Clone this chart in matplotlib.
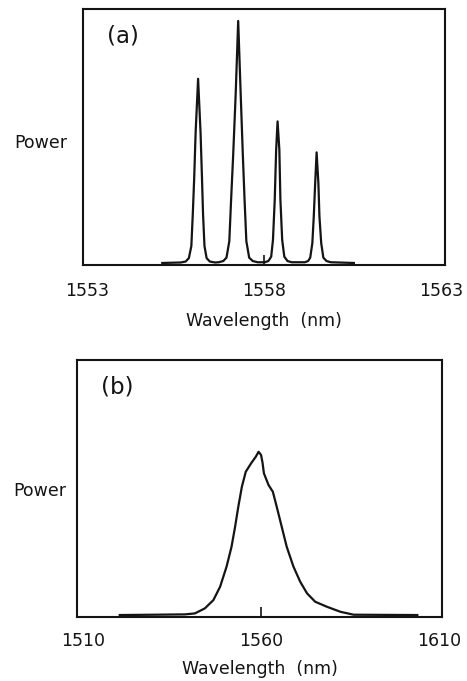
import matplotlib.pyplot as plt

# (a) multi-wavelength output (power in arb. units)
wl_a = [1555.13,
        1555.65, 1555.79, 1555.88, 1555.95, 1555.99, 1556.03, 1556.07, 1556.14, 1556.21,
        1556.25, 1556.28, 1556.32, 1556.38, 1556.47, 1556.62,
        1556.72, 1556.85, 1556.94, 1557.02, 1557.07, 1557.13, 1557.20, 1557.27, 1557.34,
        1557.40, 1557.45, 1557.50, 1557.58, 1557.68, 1557.82,
        1558.02, 1558.12, 1558.20, 1558.25, 1558.30, 1558.34, 1558.38, 1558.43, 1558.46,
        1558.51, 1558.57, 1558.66, 1558.78,
        1559.15, 1559.24, 1559.30, 1559.36, 1559.40, 1559.44, 1559.48, 1559.53, 1559.56,
        1559.61, 1559.67, 1559.76, 1559.88,
        1560.53]
power_a = [0.0,
           0.002, 0.006, 0.02, 0.07, 0.2, 0.35, 0.537, 0.761, 0.537,
           0.35, 0.2, 0.07, 0.02, 0.006, 0.002,
           0.003, 0.008, 0.022, 0.09, 0.26, 0.45, 0.70, 1.0, 0.70,
           0.45, 0.26, 0.09, 0.022, 0.008, 0.003,
           0.003, 0.008, 0.026, 0.095, 0.261, 0.468, 0.585, 0.468, 0.261,
           0.095, 0.026, 0.008, 0.003,
           0.003, 0.008, 0.022, 0.082, 0.192, 0.33, 0.457, 0.33, 0.192,
           0.082, 0.022, 0.008, 0.003,
           0.0]

# (b) broadband output
wl_b = [1520.3, 1530.0, 1538.6, 1541.4, 1544.2, 1546.6, 1548.5, 1550.3, 1551.7, 1552.7,
        1553.6, 1554.6, 1555.7, 1557.2, 1558.5, 1559.3, 1560.0, 1560.4, 1560.8, 1562.1,
        1563.3, 1564.4, 1565.8, 1567.2, 1569.1, 1571.0, 1572.9, 1575.2, 1578.5, 1582.3,
        1586.0, 1603.9]
power_b = [0.0, 0.002, 0.004, 0.010, 0.041, 0.092, 0.175, 0.298, 0.421, 0.544,
           0.667, 0.790, 0.883, 0.935, 0.975, 1.006, 0.986, 0.94, 0.873, 0.801,
           0.760, 0.667, 0.544, 0.421, 0.298, 0.205, 0.134, 0.082, 0.051, 0.020,
           0.002, 0.0]

ticks_a = [1553, 1558, 1563]
ticks_b = [1510, 1560, 1610]

plt.rcParams['font.family'] = 'DejaVu Sans'
fig = plt.figure(figsize=(4.67, 6.81), dpi=100)
ax1 = fig.add_axes([0.178, 0.611, 0.775, 0.376])
ax2 = fig.add_axes([0.165, 0.094, 0.782, 0.377])

ink = '#141414'
panels = [
    (ax1, wl_a, power_a, ticks_a, (1552.9, 1563.1), (-0.008, 1.05), '(a)', 12, 0.477, -0.044, 9),
    (ax2, wl_b, power_b, ticks_b, (1508.3, 1610.9), (-0.012, 1.57), '(b)', 11, 0.49, -0.03, 7),
]

for ax, x, y, ticks, xlim, ylim, tag, pad, ly, lx, lpad in panels:
    ax.plot(x, y, color=ink, lw=1.6)
    ax.set_xlim(*xlim)
    ax.set_ylim(*ylim)
    ax.set_yticks([])
    ax.set_xticks(ticks)
    ax.set_xticklabels([str(t) for t in ticks], fontsize=12.5, color=ink)
    ax.tick_params(axis='x', which='major', length=0, pad=pad)
    # only the centre wavelength gets a small inward tick
    ax.xaxis.remove_overlapping_locs = False
    ax.set_xticks([ticks[1]], minor=True)
    ax.tick_params(axis='x', which='minor', direction='in', length=7.5, width=1.2, color=ink)
    for s in ax.spines.values():
        s.set_linewidth(1.5)
        s.set_color(ink)
    ax.set_xlabel('Wavelength  (nm)', fontsize=12.5, color=ink, labelpad=lpad)
    ax.set_ylabel('Power', rotation=0, ha='right', va='center', fontsize=12.5, color=ink)
    ax.yaxis.set_label_coords(lx, ly)
    ax.text(0.065, 0.94, tag, transform=ax.transAxes, ha='left', va='top',
            fontsize=16.5, color=ink)

fig.savefig('out.png', dpi=100)
